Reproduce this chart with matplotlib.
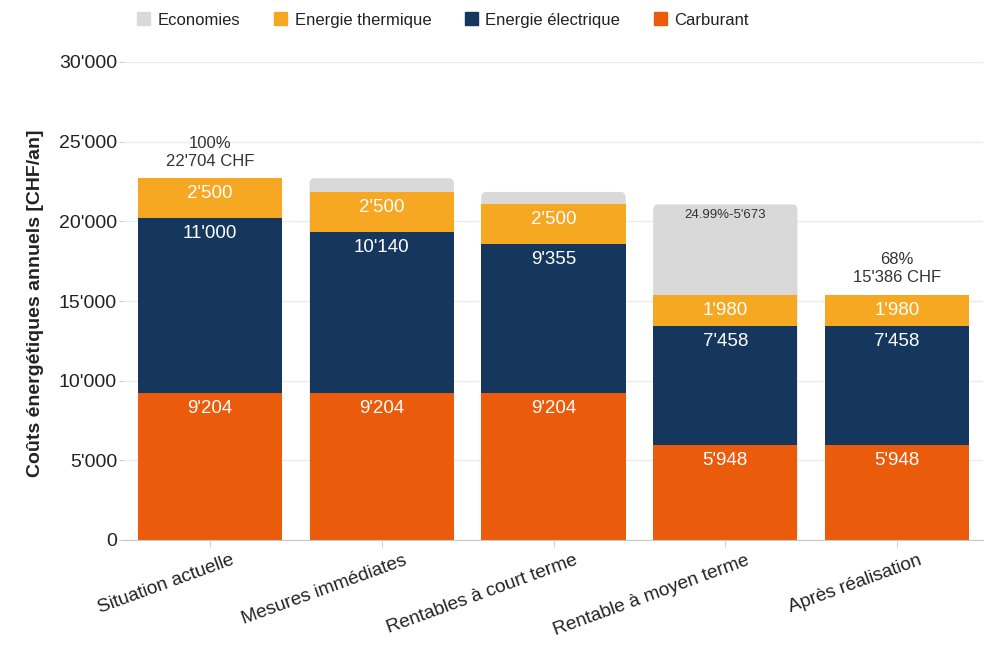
import matplotlib.pyplot as plt
import matplotlib.transforms as mtransforms
from matplotlib.patches import FancyBboxPatch, Patch
from matplotlib.ticker import FuncFormatter

plt.rcParams['font.family'] = ['Liberation Sans', 'DejaVu Sans']

categories = ['Situation actuelle', 'Mesures immédiates', 'Rentables à court terme',
              'Rentable à moyen terme', 'Après réalisation']
carburant = [9204, 9204, 9204, 5948, 5948]
electrique = [11000, 10140, 9355, 7458, 7458]
thermique = [2500, 2500, 2500, 1980, 1980]
economies = [0, 860, 785, 5673, 0]
reference_total = 22704
show_total = [True, False, False, False, True]

c_carb = '#EA5B0C'
c_elec = '#15375E'
c_therm = '#F6A823'
c_eco = '#D9D9D9'


def fmt(v):
    return f"{int(round(v)):,}".replace(',', "'")


fig = plt.figure(figsize=(9.95, 6.59), dpi=100)
ax = fig.add_axes([124 / 995, 1 - 540 / 659, (983 - 124) / 995, (540 - 62) / 659])

x = list(range(len(categories)))
w = 0.84
bottom2 = [a + b for a, b in zip(carburant, electrique)]
bottom3 = [a + b for a, b in zip(bottom2, thermique)]
tops = [a + b for a, b in zip(bottom3, economies)]

ax.set_xlim(-0.5, len(categories) - 0.5)
ax.set_ylim(0, 30000)

# economies drawn from 0 behind the other segments, so only the rounded top shows
eco_bars = ax.bar(x, tops, w, color=c_eco, zorder=1)
aspect = (30000 / 478) / (len(categories) / 859)
for b, e in zip(eco_bars, economies):
    b.set_visible(False)
    if e > 0:
        p = FancyBboxPatch((b.get_x(), 0), b.get_width(), b.get_height(),
                           boxstyle='round,pad=0,rounding_size=0.03',
                           mutation_aspect=aspect, fc=c_eco, ec='none', zorder=1)
        ax.add_patch(p)

ax.bar(x, thermique, w, bottom=bottom2, color=c_therm, zorder=2)
ax.bar(x, electrique, w, bottom=carburant, color=c_elec, zorder=2)
ax.bar(x, carburant, w, color=c_carb, zorder=2)

# segment labels near the top of each segment
for i in x:
    for top, val in [(carburant[i], carburant[i]), (bottom2[i], electrique[i]),
                     (bottom3[i], thermique[i])]:
        ax.annotate(fmt(val), (i, top), xytext=(0, -5), textcoords='offset points',
                    ha='center', va='top', color='white', fontsize=13.5, zorder=3)
    if economies[i] > 2000:
        pct = economies[i] / reference_total * 100
        ax.annotate(f"{pct:.2f}%-{fmt(economies[i])}", (i, tops[i]), xytext=(0, -3),
                    textcoords='offset points', ha='center', va='top',
                    color='#333333', fontsize=9.5, zorder=3)
    if show_total[i]:
        pct = bottom3[i] / reference_total * 100
        ax.annotate(f"{pct:.0f}%\n{fmt(bottom3[i])} CHF", (i, bottom3[i]), xytext=(0, 7),
                    textcoords='offset points', ha='center', va='bottom',
                    color='#333333', fontsize=12, linespacing=1.25, zorder=3)

ax.yaxis.set_major_formatter(FuncFormatter(lambda v, p: fmt(v)))
ax.set_yticks(range(0, 30001, 5000))
ax.grid(axis='y', color='#EBEBEB', linewidth=1, zorder=0)
ax.set_axisbelow(True)
for s in ['top', 'right', 'left']:
    ax.spines[s].set_visible(False)
ax.spines['bottom'].set_color('#C8C8C8')
ax.tick_params(axis='y', length=3.5, color='#D0D0D0', labelsize=14, labelcolor='#222222', pad=1.5)
ax.tick_params(axis='x', length=5, color='#D0D0D0', labelsize=13.7, labelcolor='#222222')

ax.set_xticks(x)
ax.set_xticklabels(categories, rotation=20, ha='right', rotation_mode='anchor')
offset = mtransforms.ScaledTranslation(21 / 100, 0 / 100, fig.dpi_scale_trans)
for lbl in ax.get_xticklabels():
    lbl.set_transform(lbl.get_transform() + offset)

ax.set_ylabel('Coûts énergétiques annuels [CHF/an]', fontsize=14, fontweight='bold',
              color='#222222')
ax.yaxis.set_label_coords(-0.093, 0.495)

handles = [Patch(color=c_eco), Patch(color=c_therm), Patch(color=c_elec), Patch(color=c_carb)]
labels = ['Economies', 'Energie thermique', 'Energie électrique', 'Carburant']
fig.legend(handles, labels, loc='center left', bbox_to_anchor=(122 / 995, 1 - 20 / 659),
           ncol=4, frameon=False, fontsize=12, handlelength=0.8, handleheight=0.8,
           handletextpad=0.45, columnspacing=2.0, labelcolor='#222222')

fig.savefig('out.png', dpi=100)
